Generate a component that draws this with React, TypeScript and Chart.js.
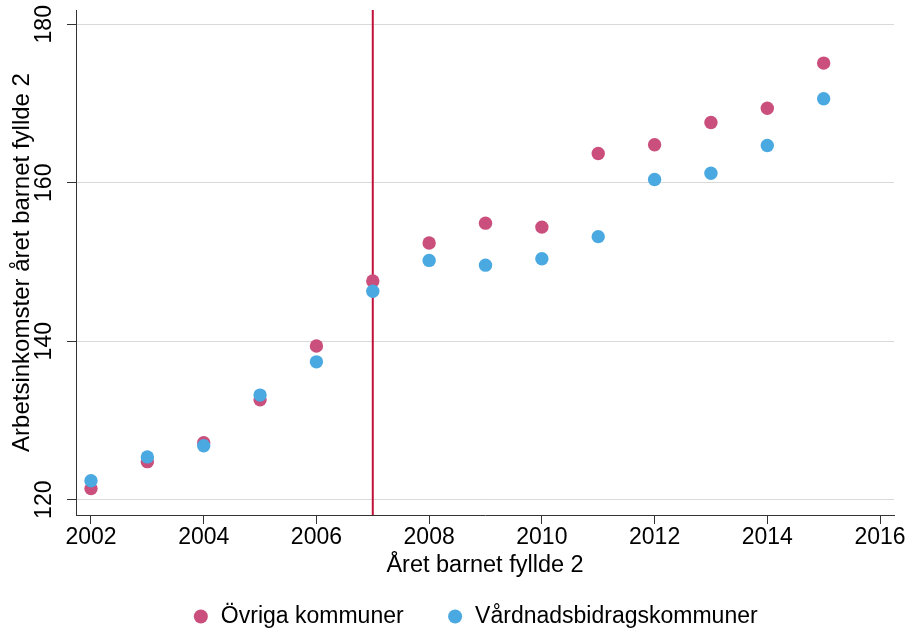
import React, { useEffect, useRef } from "react";
import { Chart, registerables } from "chart.js";

Chart.register(...registerables);

// ---- Data ----
const years = [2002, 2003, 2004, 2005, 2006, 2007, 2008, 2009, 2010, 2011, 2012, 2013, 2014, 2015];
const ovrigaKommuner = [121.4, 124.8, 127.2, 132.6, 139.4, 147.6, 152.4, 154.9, 154.4, 163.7, 164.8, 167.6, 169.4, 175.1];
const vardnadsbidragskommuner = [122.4, 125.4, 126.8, 133.2, 137.4, 146.3, 150.2, 149.6, 150.4, 153.2, 160.4, 161.2, 164.7, 170.6];
const seriesLabels = ["Övriga kommuner", "Vårdnadsbidragskommuner"];
const xTicks = [2002, 2004, 2006, 2008, 2010, 2012, 2014, 2016];
const yTicks = [120, 140, 160, 180];
const reformYear = 2007;
const xTitle = "Året barnet fyllde 2";
const yTitle = "Arbetsinkomster året barnet fyllde 2";

const FAMILY = "'Liberation Sans', Arial, Helvetica, sans-serif";
const FONT = { family: FAMILY, size: 23 };
const X_TITLE_FONT = { family: FAMILY, size: 23.5 };
const Y_TITLE_FONT = { family: FAMILY, size: 24 };
const PINK = "#ca4f7c";
const BLUE = "#4ba9e1";
const AXIS = "#333333";
const GRID = "#d9d9d9";

const refLinePlugin = {
  id: "refLine",
  beforeDatasetsDraw(chart: any) {
    const { ctx, chartArea, scales } = chart;
    const x = scales.x.getPixelForValue(reformYear);
    ctx.save();
    ctx.strokeStyle = "#c4113a";
    ctx.lineWidth = 2;
    ctx.beginPath();
    ctx.moveTo(x, chartArea.top);
    ctx.lineTo(x, chartArea.bottom);
    ctx.stroke();
    ctx.restore();
  },
};

const legendShiftPlugin = {
  id: "legendShift",
  afterLayout(chart: any) {
    const lg = chart.legend;
    if (lg) {
      lg.left -= 10;
      lg.right -= 10;
    }
  },
};

function zeroPad(s: any) {
  s.paddingLeft = 0;
  s.paddingRight = 0;
  s.paddingTop = 0;
  s.paddingBottom = 0;
}

export default function App() {
  const ref = useRef<HTMLCanvasElement>(null);

  useEffect(() => {
    document.body.style.margin = "0";
    const canvas = ref.current;
    if (!canvas) return;
    const chart = new Chart(canvas, {
      type: "scatter",
      data: {
        datasets: [
          {
            label: seriesLabels[0],
            data: years.map((y, i) => ({ x: y, y: ovrigaKommuner[i] })),
            backgroundColor: PINK,
            borderColor: PINK,
            borderWidth: 0,
            pointRadius: 6.7,
            pointHoverRadius: 6.7,
            order: 1,
          },
          {
            label: seriesLabels[1],
            data: years.map((y, i) => ({ x: y, y: vardnadsbidragskommuner[i] })),
            backgroundColor: BLUE,
            borderColor: BLUE,
            borderWidth: 0,
            pointRadius: 6.7,
            pointHoverRadius: 6.7,
            order: 0,
          },
        ],
      },
      options: {
        responsive: false,
        animation: false,
        devicePixelRatio: 1,
        events: [],
        layout: { padding: { top: 10, right: 16, bottom: -5, left: 0 } },
        scales: {
          x: {
            type: "linear",
            min: 2001.734,
            max: 2016.248,
            afterBuildTicks: (s: any) => {
              s.ticks = xTicks.map((v) => ({ value: v }));
            },
            afterFit: (s: any) => {
              s.height = 47;
              zeroPad(s);
            },
            ticks: {
              font: FONT,
              color: "#000",
              padding: 0,
              autoSkip: false,
              maxRotation: 0,
              minRotation: 0,
              callback: (v: any) => String(v),
            },
            grid: {
              drawOnChartArea: false,
              drawTicks: true,
              tickLength: 9,
              tickColor: AXIS,
              color: AXIS,
            },
            border: { display: true, color: AXIS, width: 1 },
            title: {
              display: true,
              text: xTitle,
              font: X_TITLE_FONT,
              color: "#000",
              padding: { top: 0, bottom: -17.6 },
            },
          },
          y: {
            type: "linear",
            min: 118.07,
            max: 181.8,
            afterBuildTicks: (s: any) => {
              s.ticks = yTicks.map((v) => ({ value: v }));
            },
            afterFit: (s: any) => {
              s.width = 76;
              zeroPad(s);
            },
            ticks: {
              font: FONT,
              color: "#000",
              padding: 3,
              autoSkip: false,
              minRotation: 90,
              maxRotation: 90,
              crossAlign: "center",
              callback: (v: any) => String(v),
            },
            grid: {
              color: GRID,
              lineWidth: 1,
              drawTicks: true,
              tickLength: 9,
              tickColor: AXIS,
            },
            border: { display: true, color: AXIS, width: 1 },
            title: {
              display: true,
              text: yTitle,
              font: Y_TITLE_FONT,
              color: "#000",
              padding: { top: 8, bottom: 0 },
            },
          },
        },
        plugins: {
          tooltip: { enabled: false },
          legend: {
            display: true,
            position: "bottom",
            fullSize: false,
            align: "center",
            labels: {
              usePointStyle: true,
              pointStyle: "circle",
              boxWidth: 17,
              boxHeight: 9.9,
              padding: 43,
              font: FONT,
              color: "#000",
              sort: (a: any, b: any) => a.datasetIndex - b.datasetIndex,
            },
          },
        },
      },
      plugins: [refLinePlugin, legendShiftPlugin],
    } as any);
    return () => chart.destroy();
  }, []);

  return (
    <div style={{ width: 910, height: 633, position: "relative", background: "#fff" }}>
      <canvas ref={ref} width={910} height={633} style={{ display: "block" }} />
    </div>
  );
}
